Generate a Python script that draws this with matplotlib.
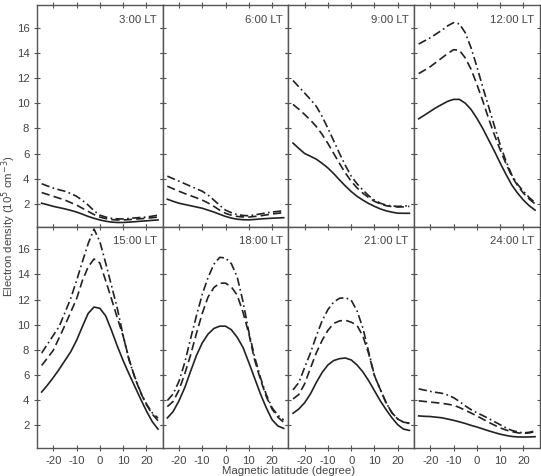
import matplotlib
matplotlib.use("Agg")
import matplotlib.pyplot as plt

plt.rcParams['font.family'] = ['Liberation Sans', 'DejaVu Sans']
plt.rcParams['axes.unicode_minus'] = False

lat = [-25, -22.5, -20, -17.5, -15, -12.5, -10, -7.5, -5, -2.5, 0,
       2.5, 5, 7.5, 10, 12.5, 15, 17.5, 20, 22.5, 25]
panels = ["3:00 LT", "6:00 LT", "9:00 LT", "12:00 LT",
          "15:00 LT", "18:00 LT", "21:00 LT", "24:00 LT"]

solid = [
    [2.05, 1.93, 1.8, 1.7, 1.6, 1.48, 1.35, 1.18, 1.0, 0.85, 0.72,
     0.62, 0.55, 0.52, 0.52, 0.55, 0.58, 0.62, 0.65, 0.69, 0.72],
    [2.37, 2.2, 2.05, 1.95, 1.85, 1.75, 1.65, 1.5, 1.35, 1.17, 1.0,
     0.87, 0.78, 0.74, 0.73, 0.76, 0.8, 0.83, 0.86, 0.88, 0.9],
    [6.83, 6.4, 6.0, 5.78, 5.55, 5.22, 4.85, 4.4, 3.9, 3.42, 2.98,
     2.6, 2.3, 2.03, 1.8, 1.6, 1.45, 1.34, 1.26, 1.25, 1.25],
    [8.76, 9.05, 9.35, 9.65, 9.9, 10.15, 10.3, 10.3, 10.0, 9.5, 8.8,
     8.0, 7.1, 6.2, 5.25, 4.35, 3.5, 2.85, 2.3, 1.85, 1.5],
    [4.65, 5.2, 5.8, 6.45, 7.15, 7.85, 8.75, 9.85, 10.9, 11.4, 11.3,
     10.7, 9.55, 8.3, 7.15, 6.1, 5.1, 4.1, 3.15, 2.3, 1.7],
    [2.59, 3.1, 3.95, 5.0, 6.3, 7.55, 8.55, 9.25, 9.7, 9.88, 9.88,
     9.6, 9.0, 8.2, 7.0, 5.75, 4.5, 3.4, 2.45, 1.95, 1.76],
    [2.96, 3.3, 3.8, 4.5, 5.4, 6.2, 6.8, 7.15, 7.3, 7.35, 7.2,
     6.8, 6.25, 5.55, 4.75, 3.95, 3.25, 2.6, 2.05, 1.7, 1.6],
    [2.75, 2.72, 2.7, 2.65, 2.6, 2.5, 2.4, 2.28, 2.15, 2.0, 1.87,
     1.72, 1.57, 1.43, 1.3, 1.2, 1.12, 1.08, 1.07, 1.08, 1.1],
]
dashed = [
    [2.9, 2.75, 2.6, 2.45, 2.3, 2.1, 1.9, 1.65, 1.4, 1.15, 0.95,
     0.83, 0.75, 0.72, 0.72, 0.75, 0.78, 0.82, 0.85, 0.9, 0.95],
    [3.4, 3.2, 3.0, 2.82, 2.65, 2.48, 2.3, 2.07, 1.8, 1.5, 1.25,
     1.1, 1.0, 0.96, 0.95, 1.0, 1.05, 1.12, 1.2, 1.25, 1.3],
    [9.9, 9.52, 9.1, 8.65, 8.15, 7.52, 6.8, 6.0, 5.2, 4.45, 3.8,
     3.27, 2.85, 2.5, 2.2, 2.0, 1.85, 1.78, 1.75, 1.76, 1.8],
    [12.35, 12.62, 12.9, 13.25, 13.6, 13.95, 14.25, 14.2, 13.6, 12.7, 11.5,
     10.2, 8.8, 7.5, 6.3, 5.2, 4.2, 3.45, 2.85, 2.38, 2.0],
    [6.76, 7.35, 7.97, 8.95, 9.95, 11.0, 12.05, 13.5, 14.6, 15.22, 14.9,
     13.5, 12.05, 10.55, 9.1, 7.3, 5.8, 4.6, 3.65, 2.9, 2.37],
    [3.49, 3.9, 4.8, 6.1, 7.6, 9.3, 10.9, 12.2, 12.95, 13.3, 13.3,
     13.0, 12.35, 11.0, 9.3, 7.2, 5.65, 4.3, 3.3, 2.65, 2.24],
    [4.1, 4.45, 5.3, 6.55, 7.75, 8.75, 9.55, 10.1, 10.3, 10.35, 10.2,
     9.95, 9.1, 7.7, 5.95, 4.85, 3.8, 3.0, 2.5, 2.25, 2.15],
    [3.95, 3.9, 3.85, 3.8, 3.75, 3.68, 3.6, 3.42, 3.2, 2.98, 2.75,
     2.5, 2.25, 2.02, 1.8, 1.63, 1.5, 1.41, 1.35, 1.4, 1.5],
]
dashdot = [
    [3.6, 3.42, 3.25, 3.12, 3.0, 2.82, 2.6, 2.28, 1.9, 1.45, 1.1,
     0.95, 0.85, 0.81, 0.8, 0.84, 0.88, 0.92, 0.95, 1.02, 1.1],
    [4.2, 4.0, 3.8, 3.6, 3.4, 3.2, 3.0, 2.7, 2.3, 1.88, 1.5,
     1.3, 1.15, 1.08, 1.05, 1.12, 1.2, 1.28, 1.35, 1.4, 1.45],
    [11.8, 11.3, 10.8, 10.3, 9.75, 8.95, 8.0, 7.0, 6.0, 5.05, 4.2,
     3.6, 3.1, 2.65, 2.3, 2.05, 1.9, 1.83, 1.8, 1.82, 1.85],
    [14.7, 14.95, 15.2, 15.5, 15.8, 16.15, 16.4, 16.3, 15.6, 14.4, 12.9,
     11.3, 9.75, 8.2, 6.7, 5.4, 4.3, 3.55, 3.0, 2.5, 2.1],
    [7.75, 8.45, 9.15, 9.85, 10.95, 12.1, 13.5, 15.0, 16.45, 17.6, 16.6,
     14.9, 13.1, 11.3, 9.15, 7.2, 5.85, 4.65, 3.7, 3.0, 2.58],
    [3.97, 4.5, 5.5, 7.0, 8.9, 10.7, 12.4, 13.75, 14.8, 15.35, 15.3,
     14.85, 13.8, 11.85, 9.45, 7.45, 5.8, 4.45, 3.4, 2.8, 2.43],
    [4.82, 5.4, 6.6, 7.75, 9.1, 10.3, 11.2, 11.8, 12.1, 12.14, 11.95,
     11.1, 9.75, 7.85, 5.95, 4.85, 3.8, 3.0, 2.5, 2.25, 2.18],
    [4.9, 4.8, 4.7, 4.62, 4.55, 4.4, 4.2, 3.9, 3.55, 3.25, 3.0,
     2.78, 2.55, 2.3, 2.05, 1.8, 1.6, 1.48, 1.4, 1.45, 1.55],
]

xticks = [-20, -10, 0, 10, 20]
yticks = [2, 4, 6, 8, 10, 12, 14, 16]

line_c = '#222222'
spine_c = '#555555'
text_c = '#444444'
fs = 8.2

fig, axes = plt.subplots(2, 4, figsize=(5.41, 4.76), dpi=100, sharex=True, sharey=True)
fig.subplots_adjust(left=0.0684, right=0.9976, top=0.9895, bottom=0.0588,
                    wspace=0, hspace=0)

for i, ax in enumerate(axes.flat):
    ax.plot(lat, solid[i], color=line_c, lw=1.2, linestyle='-')
    ax.plot(lat, dashed[i], color=line_c, lw=1.2, linestyle=(0, (5, 2.5)))
    ax.plot(lat, dashdot[i], color=line_c, lw=1.2, linestyle=(0, (5, 2, 1, 2)))
    ax.set_xlim(-27, 27)
    ax.set_ylim(0.2, 17.8)
    ax.set_xticks(xticks)
    ax.set_yticks(yticks)
    ax.tick_params(direction='inout', length=5, width=0.8, color=spine_c,
                   labelcolor=text_c, labelsize=fs,
                   top=True, right=True, bottom=True, left=True, pad=3)
    for s in ax.spines.values():
        s.set_color(spine_c)
        s.set_linewidth(1.0)
    ax.text(0.955, 0.955, panels[i], transform=ax.transAxes, ha='right', va='top',
            fontsize=fs, color=text_c)

fig.text(0.016, 0.525, 'Electron density (10$^5$ cm$^{-3}$)', rotation=90,
         ha='center', va='center', fontsize=fs, color=text_c)
fig.text(0.533, 0.001, 'Magnetic latitude (degree)', ha='center', va='bottom',
         fontsize=fs, color=text_c)

fig.savefig('out.png', dpi=100)
